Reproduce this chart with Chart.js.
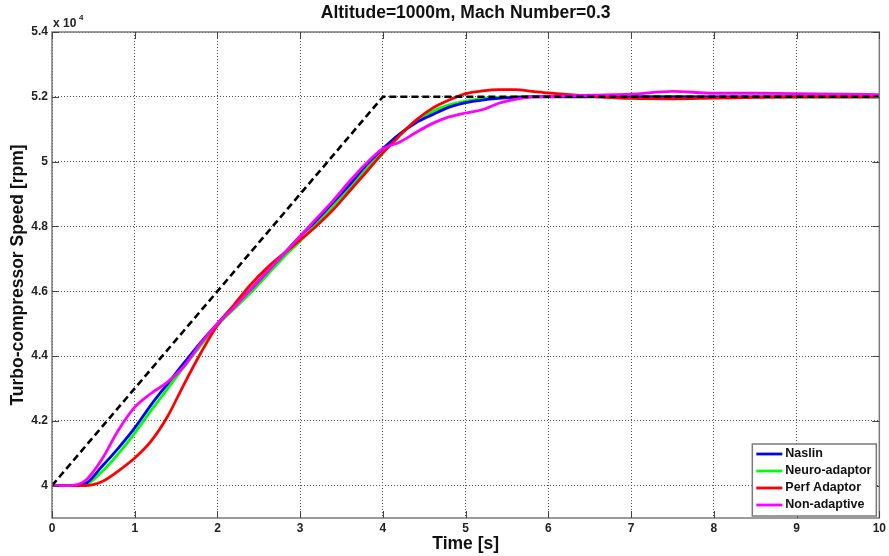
<!DOCTYPE html>
<html>
<head>
<meta charset="utf-8">
<script src="https://cdn.jsdelivr.net/npm/chart.js@4"></script>
<style>
  body { margin: 0; background: #fff; }
  #wrap { width: 889px; height: 556px; }
</style>
</head>
<body>
<div id="wrap"><canvas id="myChart" width="889" height="556"></canvas></div>
<script>
// time axis [s]
var time = [0, 0.2, 0.4, 0.6, 0.8, 1.0, 1.2, 1.4, 1.6, 1.8, 2.0, 2.2, 2.4, 2.6, 2.8, 3.0, 3.2, 3.4, 3.6, 3.8,
            4.0, 4.2, 4.4, 4.6, 4.8, 5.0, 5.2, 5.4, 5.6, 5.8, 6.0, 6.5, 7.0, 7.5, 8.0, 8.5, 9.0, 9.5, 10];

// speeds [rpm]
var naslin = [40000, 40000, 40060, 40580, 41150, 41780, 42500, 43150, 43800, 44430, 45000, 45550, 46050, 46600, 47150, 47700, 48200, 48750, 49300, 49900,
              50400, 50850, 51200, 51450, 51680, 51820, 51900, 51950, 51980, 52000, 52000, 52000, 52000, 52000, 52000, 52000, 52000, 52000, 52000];
var neuro = [40000, 40000, 40030, 40420, 40980, 41620, 42330, 43000, 43680, 44330, 44950, 45450, 45950, 46500, 47050, 47550, 48100, 48650, 49200, 49780,
             50300, 50820, 51250, 51550, 51750, 51870, 51940, 51980, 52000, 52010, 52020, 52030, 52020, 52010, 52000, 52000, 52000, 52000, 52000];
var perf = [40000, 40000, 40000, 40120, 40450, 40850, 41380, 42150, 43150, 44100, 44950, 45580, 46200, 46720, 47160, 47580, 48020, 48520, 49100, 49680,
            50270, 50800, 51280, 51650, 51900, 52100, 52180, 52220, 52220, 52170, 52120, 52020, 51950, 51940, 51960, 51980, 52000, 52000, 52000];
var nonAdaptive = [40000, 40000, 40150, 40800, 41700, 42420, 42850, 43200, 43700, 44400, 45000, 45500, 46050, 46600, 47150, 47700, 48250, 48800, 49400, 49950,
                   50400, 50600, 50900, 51180, 51380, 51500, 51600, 51800, 51920, 52000, 52010, 52050, 52080, 52170, 52110, 52110, 52100, 52080, 52070];

// reference ramp
var refTime = [0, 4, 10];
var refSpeed = [40000, 52000, 52000];

var yTicks = [40000, 42000, 44000, 46000, 48000, 50000, 52000, 54000];
var xTicks = [0, 1, 2, 3, 4, 5, 6, 7, 8, 9, 10];

var FONT = '"Liberation Sans", Arial, sans-serif';

function pts(xs, ys) {
    return xs.map(function (x, i) { return { x: x, y: ys[i] }; });
}

// box + inward ticks like matlab
const framePlugin = {
    id: 'frame',
    afterDraw(chart) {
        const ctx = chart.ctx;
        const a = chart.chartArea;
        const xs = chart.scales.x, ys = chart.scales.y;
        ctx.save();
        ctx.strokeStyle = '#7a7a7a';
        ctx.lineWidth = 1.5;
        ctx.strokeRect(a.left, a.top, a.right - a.left, a.bottom - a.top);
        ctx.lineWidth = 1;
        ctx.strokeStyle = '#444';
        ctx.beginPath();
        xTicks.forEach(function (t) {
            const px = Math.round(xs.getPixelForValue(t)) + 0.5;
            ctx.moveTo(px, a.bottom); ctx.lineTo(px, a.bottom - 7);
            ctx.moveTo(px, a.top); ctx.lineTo(px, a.top + 7);
        });
        yTicks.forEach(function (t) {
            const py = Math.round(ys.getPixelForValue(t)) + 0.5;
            ctx.moveTo(a.left, py); ctx.lineTo(a.left + 7, py);
            ctx.moveTo(a.right, py); ctx.lineTo(a.right - 7, py);
        });
        ctx.stroke();

        // exponent label
        ctx.fillStyle = '#222';
        ctx.textBaseline = 'middle';
        ctx.textAlign = 'left';
        ctx.font = 'bold 12px ' + FONT;
        ctx.fillText('x 10', a.left + 1, a.top - 8);
        ctx.font = 'bold 8px ' + FONT;
        ctx.fillText('4', a.left + 27, a.top - 14);

        // legend
        const items = chart.data.datasets.filter(function (d) { return d.label; });
        const w = 124, rowH = 17;
        const h = items.length * rowH + 4;
        const lx = a.right - 3 - w, ly = a.bottom - 2 - h;
        ctx.fillStyle = '#fff';
        ctx.fillRect(lx, ly, w, h);
        ctx.strokeStyle = '#7a7a7a';
        ctx.lineWidth = 1.5;
        ctx.strokeRect(lx, ly, w, h);
        ctx.font = 'bold 12.5px ' + FONT;
        items.forEach(function (d, i) {
            const cy = ly + 10 + i * rowH;
            ctx.strokeStyle = d.borderColor;
            ctx.lineWidth = 2.8;
            ctx.beginPath();
            ctx.moveTo(lx + 4, cy); ctx.lineTo(lx + 30, cy);
            ctx.stroke();
            ctx.fillStyle = '#111';
            ctx.fillText(d.label, lx + 33, cy);
        });
        ctx.restore();
    }
};

const data = {
    datasets: [
        {
            label: '',
            data: pts(refTime, refSpeed),
            borderColor: '#000',
            borderWidth: 2.6,
            borderDash: [7, 4],
            tension: 0,
            order: 0
        },
        {
            label: 'Naslin',
            data: pts(time, naslin),
            borderColor: '#0000ff',
            borderWidth: 2.8,
            cubicInterpolationMode: 'monotone',
            order: 3
        },
        {
            label: 'Neuro-adaptor',
            data: pts(time, neuro),
            borderColor: '#00ff00',
            borderWidth: 2.8,
            cubicInterpolationMode: 'monotone',
            order: 4
        },
        {
            label: 'Perf Adaptor',
            data: pts(time, perf),
            borderColor: '#ff0000',
            borderWidth: 2.8,
            cubicInterpolationMode: 'monotone',
            order: 2
        },
        {
            label: 'Non-adaptive',
            data: pts(time, nonAdaptive),
            borderColor: '#ff00ff',
            borderWidth: 2.8,
            cubicInterpolationMode: 'monotone',
            order: 1
        }
    ]
};

const config = {
    type: 'line',
    data: data,
    options: {
        responsive: false,
        animation: false,
        devicePixelRatio: 1,
        elements: { point: { radius: 0 } },
        layout: { padding: { left: 0, right: 9, top: 0, bottom: 0 } },
        plugins: {
            legend: { display: false },
            tooltip: { enabled: false },
            title: {
                display: true,
                text: 'Altitude=1000m, Mach Number=0.3',
                fullSize: false,
                color: '#111',
                font: { family: FONT, size: 17.5, weight: 'bold', lineHeight: 1.2 },
                padding: { top: 3, bottom: 8 }
            }
        },
        scales: {
            x: {
                type: 'linear',
                min: 0,
                max: 10,
                afterBuildTicks: function (s) { s.ticks = xTicks.map(function (v) { return { value: v }; }); },
                afterFit: function (s) { s.height = 38; },
                ticks: {
                    color: '#222',
                    padding: 3,
                    font: { family: FONT, size: 12, weight: 'bold' }
                },
                grid: { color: '#555', lineWidth: 1, drawTicks: false },
                border: { display: false, dash: [1, 2] },
                title: {
                    display: true,
                    text: 'Time [s]',
                    color: '#111',
                    font: { family: FONT, size: 17.5, weight: 'bold', lineHeight: 1.2 },
                    padding: { top: 0, bottom: 1.5 }
                }
            },
            y: {
                type: 'linear',
                min: 39000,
                max: 54000,
                afterBuildTicks: function (s) { s.ticks = yTicks.map(function (v) { return { value: v }; }); },
                afterFit: function (s) { s.width = 52; },
                ticks: {
                    color: '#222',
                    padding: 4,
                    font: { family: FONT, size: 12, weight: 'bold' },
                    callback: function (v) { return String(Math.round(v / 1000) / 10); }
                },
                grid: { color: '#555', lineWidth: 1, drawTicks: false },
                border: { display: false, dash: [1, 2] },
                title: {
                    display: true,
                    text: 'Turbo-compressor Speed [rpm]',
                    color: '#111',
                    font: { family: FONT, size: 17.5, weight: 'bold', lineHeight: 1.2 },
                    padding: { top: 8, bottom: 0 }
                }
            }
        }
    },
    plugins: [framePlugin]
};

var myChart = new Chart(
    document.getElementById('myChart'),
    config
);
</script>
</body>
</html>
